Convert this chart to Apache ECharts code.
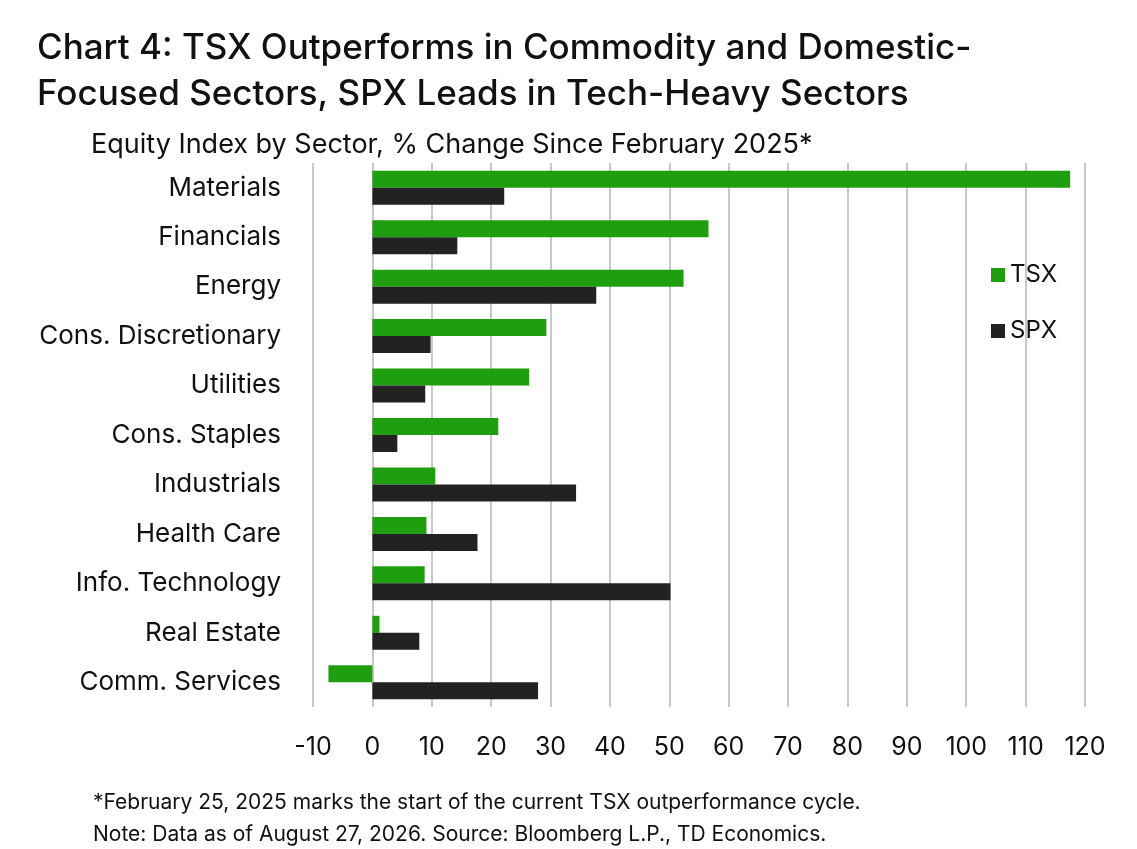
<!DOCTYPE html>
<html>
<head>
<meta charset="utf-8">
<script src="https://cdn.jsdelivr.net/npm/echarts@6/dist/echarts.min.js"></script>
<style>
  body { margin: 0; background: #fff; }
  #chart { width: 1137px; height: 849px; }
</style>
</head>
<body>
<div id="chart"></div>
<script>
const sectors = [
  "Materials", "Financials", "Energy", "Cons. Discretionary", "Utilities",
  "Cons. Staples", "Industrials", "Health Care", "Info. Technology",
  "Real Estate", "Comm. Services"
];
const tsx = [117.5, 56.6, 52.4, 29.3, 26.4, 21.2, 10.6, 9.1, 8.8, 1.2, -7.4];
const spx = [22.2, 14.3, 37.7, 9.8, 8.9, 4.2, 34.3, 17.7, 50.2, 7.9, 27.9];

const font = "Inter, 'Noto Sans', sans-serif";
const chart = echarts.init(document.getElementById("chart"));
chart.setOption({
  animation: false,
  textStyle: { fontFamily: font },
  title: [
    {
      text: "Chart 4: TSX Outperforms in Commodity and Domestic-\nFocused Sectors, SPX Leads in Tech-Heavy Sectors",
      left: 32, top: 20,
      textStyle: { fontSize: 35, fontWeight: 500, color: "#111", lineHeight: 46, fontFamily: font }
    },
    {
      text: "Equity Index by Sector, % Change Since February 2025*",
      left: 86, top: 126,
      textStyle: { fontSize: 27, fontWeight: 400, color: "#111", fontFamily: font }
    },
    {
      text: "*February 25, 2025 marks the start of the current TSX outperformance cycle.\nNote: Data as of August 27, 2026. Source: Bloomberg L.P., TD Economics.",
      left: 88, top: 782,
      textStyle: { fontSize: 21, fontWeight: 400, color: "#111", lineHeight: 32, fontFamily: font }
    }
  ],
  legend: {
    orient: "vertical",
    left: 986, top: 258,
    itemWidth: 14, itemHeight: 14, itemGap: 32,
    icon: "rect",
    textStyle: { fontSize: 24, color: "#111", fontFamily: font },
    data: ["TSX", "SPX"]
  },
  grid: { left: 313, right: 52, top: 163, bottom: 142 },
  xAxis: {
    type: "value",
    min: -10, max: 120, interval: 10,
    axisLabel: { fontSize: 25, color: "#111", margin: 28, fontFamily: font },
    splitLine: { show: true, lineStyle: { color: "#c8c8c8", width: 2 } },
    axisLine: { show: false },
    axisTick: { show: false }
  },
  yAxis: {
    type: "category",
    inverse: true,
    data: sectors,
    axisLabel: { fontSize: 26, color: "#111", margin: 32, fontFamily: font },
    axisLine: { show: false },
    axisTick: { show: false }
  },
  series: [
    { name: "TSX", type: "bar", data: tsx, barWidth: 17, barGap: "0%", itemStyle: { color: "#1f9e10" } },
    { name: "SPX", type: "bar", data: spx, barWidth: 17, itemStyle: { color: "#222222" } }
  ]
});
</script>
</body>
</html>
